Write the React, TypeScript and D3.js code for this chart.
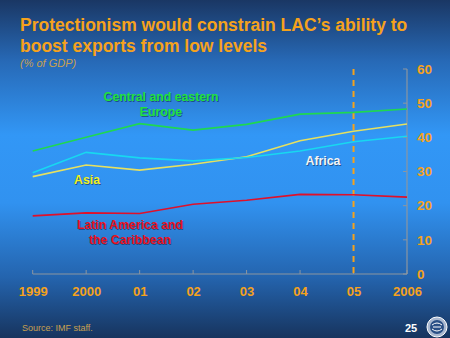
import React, { useEffect, useRef } from 'react';
import * as d3 from 'd3';

const years = ['1999', '2000', '01', '02', '03', '04', '05', '2006'];
const yTicks = [0, 10, 20, 30, 40, 50, 60];
const ceeValues = [36.0, 40.0, 44.0, 42.1, 43.8, 46.8, 47.3, 48.3];
const africaValues = [29.6, 35.6, 34.0, 33.1, 34.1, 36.0, 38.7, 40.3];
const asiaValues = [28.5, 31.9, 30.4, 32.1, 34.3, 39.0, 41.8, 43.9];
const lacValues = [17.0, 17.9, 17.7, 20.4, 21.6, 23.3, 23.2, 22.5];

const W = 450;
const H = 338;
const ORANGE = '#f5a21c';

function App() {
  const ref = useRef<SVGSVGElement>(null);

  useEffect(() => {
    const svg = d3.select(ref.current);
    svg.selectAll('*').remove();

    // background gradient
    const defs = svg.append('defs');
    const grad = defs.append('linearGradient').attr('id', 'bg').attr('x1', 0).attr('y1', 0).attr('x2', 0).attr('y2', 1);
    [
      [0, '#1a3764'],
      [0.18, '#2769b6'],
      [0.4, '#3297f6'],
      [0.6, '#3192f0'],
      [0.82, '#2464ae'],
      [1, '#17345e'],
    ].forEach(([o, c]) => grad.append('stop').attr('offset', o as number).attr('stop-color', c as string));
    svg.append('rect').attr('width', W).attr('height', H).attr('fill', 'url(#bg)');

    const font = 'Arial, "Liberation Sans", sans-serif';

    // title
    const title = svg.append('g').attr('font-family', font).attr('font-weight', 'bold').attr('fill', ORANGE).attr('font-size', 17.5);
    title.append('text').attr('x', 20).attr('y', 31).text('Protectionism would constrain LAC\u2019s ability to');
    title.append('text').attr('x', 20).attr('y', 52).text('boost exports from low levels');
    svg.append('text').attr('x', 20).attr('y', 67).attr('font-family', font).attr('font-style', 'italic')
      .attr('font-size', 11).attr('fill', '#c8a050').text('(% of GDP)');

    const x = d3.scalePoint<string>().domain(years).range([32.7, 407]);
    const y = d3.scaleLinear().domain([0, 60]).range([274, 69]);

    // axes
    const axisColor = '#8c96a0';
    const yAxis = svg.append('g').attr('transform', 'translate(407,0)')
      .call(d3.axisRight(y).tickValues(yTicks).tickSize(0).tickPadding(10).tickSizeOuter(0));
    yAxis.select('.domain').remove();
    yAxis.selectAll('text').attr('fill', ORANGE).attr('font-family', font).attr('font-weight', 'bold')
      .attr('font-size', 13.5).attr('text-anchor', 'start');
    svg.append('line').attr('x1', 407).attr('x2', 407).attr('y1', y(60)).attr('y2', y(0))
      .attr('stroke', axisColor).attr('stroke-width', 1.2);
    svg.append('g').selectAll('line').data(yTicks).enter().append('line')
      .attr('x1', 403).attr('x2', 407).attr('y1', (d) => y(d)).attr('y2', (d) => y(d))
      .attr('stroke', axisColor).attr('stroke-width', 1);

    const xAxis = svg.append('g').attr('transform', 'translate(0,274)')
      .call(d3.axisBottom(x).tickSize(0).tickPadding(13));
    xAxis.select('.domain').remove();
    xAxis.selectAll('text').attr('fill', ORANGE).attr('font-family', font).attr('font-weight', 'bold').attr('font-size', 13);
    svg.append('line').attr('x1', x('1999')!).attr('x2', x('2006')!).attr('y1', 274).attr('y2', 274)
      .attr('stroke', axisColor).attr('stroke-width', 1.2);
    svg.append('g').selectAll('line').data(years).enter().append('line')
      .attr('x1', (d) => x(d)!).attr('x2', (d) => x(d)!).attr('y1', 270).attr('y2', 274)
      .attr('stroke', axisColor).attr('stroke-width', 1);

    // dashed 2005 marker
    svg.append('line').attr('x1', x('05')!).attr('x2', x('05')!).attr('y1', y(60)).attr('y2', y(0))
      .attr('stroke', ORANGE).attr('stroke-width', 2).attr('stroke-dasharray', '6,5');

    const line = d3.line<number>().x((_, i) => x(years[i])!).y((d) => y(d));
    const series: [number[], string][] = [
      [ceeValues, '#1fd850'],
      [asiaValues, '#e6e060'],
      [africaValues, '#18d8f0'],
      [lacValues, '#e0102a'],
    ];
    series.forEach(([vals, color]) => {
      svg.append('path').datum(vals).attr('d', line).attr('fill', 'none')
        .attr('stroke', color).attr('stroke-width', 1.6);
    });

    // series labels with a soft drop shadow
    const label = (lines: string[], cx: number, cy: number, color: string) => {
      [['rgba(15,35,70,0.55)', 1], [color, 0]].forEach(([fill, off]) => {
        const t = svg.append('text').attr('font-family', font).attr('font-weight', 'bold').attr('font-size', 12.3)
          .attr('fill', fill as string).attr('text-anchor', 'middle');
        lines.forEach((l, i) => t.append('tspan').attr('x', cx + (off as number)).attr('y', cy + (off as number) + i * 15).text(l));
      });
    };
    label(['Central and eastern', 'Europe'], 161, 101, '#20e040');
    label(['Asia'], 87, 184, '#f0f020');
    label(['Africa'], 323, 165, '#f4f4f4');
    label(['Latin America and', 'the Caribbean'], 130, 229, '#e8101e');

    // footer
    svg.append('text').attr('x', 22).attr('y', 331).attr('font-family', font).attr('font-size', 9)
      .attr('fill', '#c8a050').text('Source: IMF staff.');
    svg.append('text').attr('x', 405).attr('y', 332).attr('font-family', font).attr('font-weight', 'bold')
      .attr('font-size', 11).attr('fill', '#ffffff').text('25');
    const logo = svg.append('g').attr('transform', 'translate(437,327)');
    logo.append('circle').attr('r', 10).attr('fill', '#a9b8d0').attr('stroke', '#ffffff').attr('stroke-width', 1);
    logo.append('circle').attr('r', 7).attr('fill', '#2a4f86');
    logo.append('path').attr('d', 'M-5,-2 Q0,-6 5,-2 M-5,2 Q0,6 5,2 M-4,0 L4,0').attr('stroke', '#ffffff')
      .attr('stroke-width', 1).attr('fill', 'none');
  }, []);

  return (
    <svg ref={ref} width={W} height={H} style={{ position: 'absolute', left: 0, top: 0, display: 'block' }} />
  );
}

export default App;
